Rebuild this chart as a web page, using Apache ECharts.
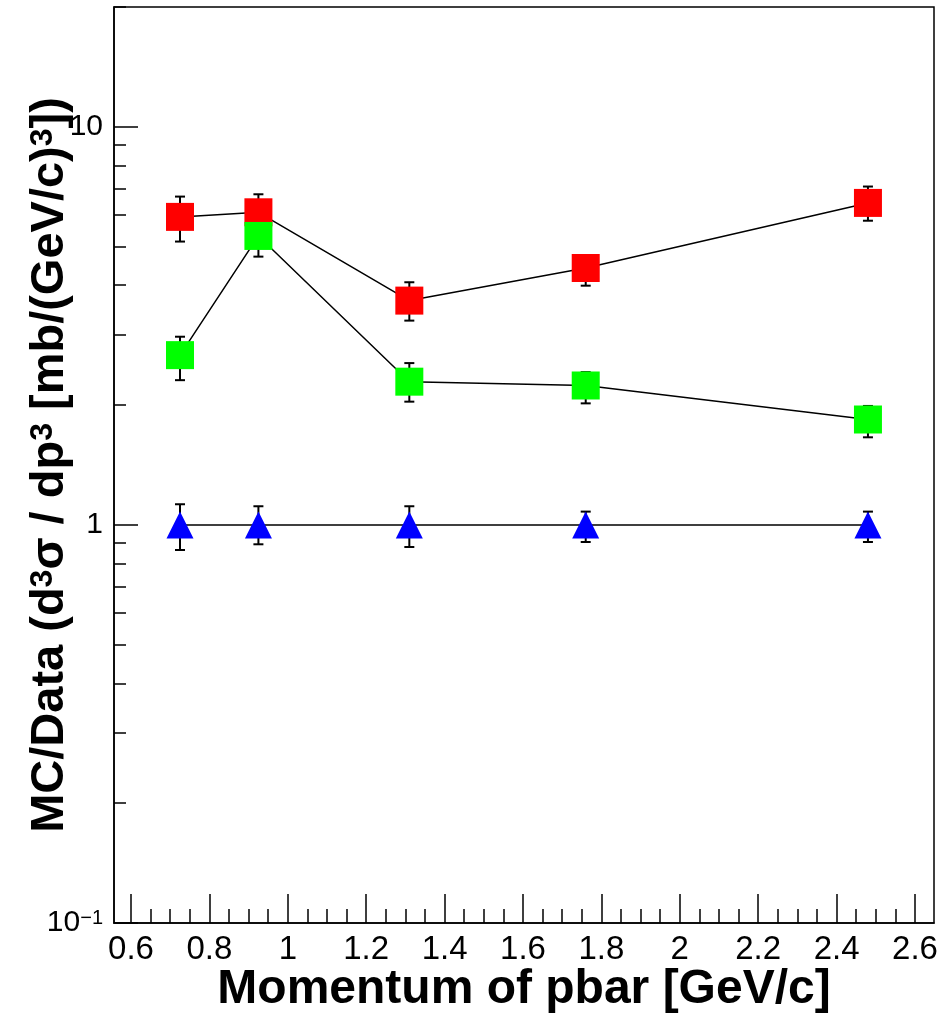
<!DOCTYPE html>
<html>
<head>
<meta charset="utf-8">
<script src="https://cdn.jsdelivr.net/npm/echarts@6/dist/echarts.min.js"></script>
<style>
  html, body { margin: 0; padding: 0; background: #fff; }
  #chart { width: 952px; height: 1019px; }
</style>
</head>
<body>
<div id="chart"></div>
<script>
// momentum points (GeV/c)
const momentum = [0.725, 0.925, 1.31, 1.76, 2.48];

// MC/Data ratios and their error ranges
const redRatio = [5.94, 6.10, 3.66, 4.42, 6.44];
const redLow = [5.15, 5.45, 3.26, 3.99, 5.81];
const redHigh = [6.68, 6.77, 4.07, 4.75, 7.08];

const greenRatio = [2.67, 5.32, 2.29, 2.24, 1.84];
const greenLow = [2.31, 4.72, 2.04, 2.02, 1.66];
const greenHigh = [2.97, 5.91, 2.55, 2.42, 1.99];

const blueRatio = [1, 1, 1, 1, 1];
const blueLow = [0.865, 0.894, 0.88, 0.906, 0.906];
const blueHigh = [1.127, 1.114, 1.114, 1.08, 1.08];

// axis ticks
const xMajorTicks = [0.6, 0.8, 1, 1.2, 1.4, 1.6, 1.8, 2, 2.2, 2.4, 2.6];
const xMinorTicks = [0.65, 0.7, 0.75, 0.85, 0.9, 0.95, 1.05, 1.1, 1.15, 1.25, 1.3, 1.35,
  1.45, 1.5, 1.55, 1.65, 1.7, 1.75, 1.85, 1.9, 1.95, 2.05, 2.1, 2.15, 2.25, 2.3, 2.35,
  2.45, 2.5, 2.55];
const yMajorTicks = [0.1, 1, 10];
const yMinorTicks = [0.2, 0.3, 0.4, 0.5, 0.6, 0.7, 0.8, 0.9, 2, 3, 4, 5, 6, 7, 8, 9, 20];

const FONT = "'Liberation Sans', Arial, Helvetica, sans-serif";

function zip(xs, ys) {
  return xs.map((x, i) => [x, ys[i]]);
}
function errData(xs, lo, hi) {
  return xs.map((x, i) => [x, lo[i], hi[i]]);
}

// vertical error bar with end caps
function renderErr(params, api) {
  const x = api.value(0);
  const top = api.coord([x, api.value(2)]);
  const bot = api.coord([x, api.value(1)]);
  const cap = 5;
  const st = { stroke: '#000', lineWidth: 2 };
  return {
    type: 'group',
    children: [
      { type: 'line', shape: { x1: top[0], y1: top[1], x2: bot[0], y2: bot[1] }, style: st },
      { type: 'line', shape: { x1: top[0] - cap, y1: top[1], x2: top[0] + cap, y2: top[1] }, style: st },
      { type: 'line', shape: { x1: bot[0] - cap, y1: bot[1], x2: bot[0] + cap, y2: bot[1] }, style: st }
    ]
  };
}

function errSeries(data) {
  return {
    type: 'custom',
    xAxisIndex: 0,
    yAxisIndex: 0,
    renderItem: renderErr,
    encode: { x: 0, y: [1, 2] },
    data: data,
    z: 1,
    silent: true
  };
}

function lineSeries(data, color, symbol, size, z) {
  return {
    type: 'line',
    xAxisIndex: 0,
    yAxisIndex: 0,
    data: data,
    symbol: symbol,
    symbolSize: size,
    showAllSymbol: true,
    itemStyle: { color: color, borderWidth: 0 },
    lineStyle: { color: '#000', width: 1.5 },
    z: z
  };
}

const chart = echarts.init(document.getElementById('chart'));

const option = {
  animation: false,
  backgroundColor: '#fff',
  grid: {
    left: 114, right: 18, top: 7, bottom: 96,
    show: true, borderColor: '#000', borderWidth: 1.5,
    containLabel: false,
    outerBoundsMode: 'none'
  },
  xAxis: [
    {
      type: 'value',
      min: 0.5566,
      max: 2.6485,
      name: 'Momentum of pbar [GeV/c]',
      nameLocation: 'middle',
      nameGap: 43,
      nameMoveOverlap: false,
      nameTextStyle: { fontFamily: FONT, fontWeight: 'bold', fontSize: 48, color: '#000' },
      axisLine: { show: true, lineStyle: { color: '#000', width: 1.5 } },
      axisTick: { show: true, inside: true, length: 29, customValues: xMajorTicks, lineStyle: { color: '#000', width: 1.5 } },
      axisLabel: {
        customValues: xMajorTicks,
        margin: 10,
        fontFamily: FONT,
        fontSize: 33,
        color: '#000',
        formatter: v => String(Math.round(v * 10) / 10)
      },
      splitLine: { show: false }
    },
    {
      type: 'value',
      min: 0.5566,
      max: 2.6485,
      position: 'bottom',
      axisLine: { show: false },
      axisTick: { show: true, inside: true, length: 14, customValues: xMinorTicks, lineStyle: { color: '#000', width: 1.5 } },
      axisLabel: { show: false },
      splitLine: { show: false }
    }
  ],
  yAxis: [
    {
      type: 'log',
      logBase: 10,
      min: 0.1,
      max: 20,
      name: 'MC/Data (d{s|3}σ / dp{s|3} [mb/(GeV/c){s|3}])',
      nameLocation: 'middle',
      nameRotate: 90,
      nameGap: 40,
      nameMoveOverlap: false,
      nameTextStyle: {
        fontFamily: FONT, fontWeight: 'bold', fontSize: 47, color: '#000',
        rich: {
          s: { fontFamily: FONT, fontWeight: 'bold', fontSize: 32, verticalAlign: 'top', color: '#000' }
        }
      },
      axisLine: { show: true, lineStyle: { color: '#000', width: 1.5 } },
      axisTick: { show: true, inside: true, length: 24, customValues: yMajorTicks, lineStyle: { color: '#000', width: 1.5 } },
      axisLabel: {
        customValues: yMajorTicks,
        margin: 11,
        fontFamily: FONT,
        fontSize: 30,
        color: '#000',
        formatter: v => (v < 0.5 ? '10{s|−1}' : String(Math.round(v))),
        rich: {
          s: { fontFamily: FONT, fontSize: 20, verticalAlign: 'top', color: '#000' }
        }
      },
      splitLine: { show: false }
    },
    {
      type: 'log',
      logBase: 10,
      min: 0.1,
      max: 20,
      position: 'left',
      axisLine: { show: false },
      axisTick: { show: true, inside: true, length: 12, customValues: yMinorTicks, lineStyle: { color: '#000', width: 1.5 } },
      axisLabel: { show: false },
      splitLine: { show: false }
    }
  ],
  series: [
    errSeries(errData(momentum, redLow, redHigh)),
    errSeries(errData(momentum, greenLow, greenHigh)),
    errSeries(errData(momentum, blueLow, blueHigh)),
    lineSeries(zip(momentum, redRatio), '#ff0000', 'rect', 28, 3),
    lineSeries(zip(momentum, greenRatio), '#00ff00', 'rect', 28, 4),
    lineSeries(zip(momentum, blueRatio), '#0000ff', 'triangle', [27, 27], 5)
  ]
};

chart.setOption(option);
window.addEventListener('resize', function () {
  chart.resize();
});
</script>
</body>
</html>
